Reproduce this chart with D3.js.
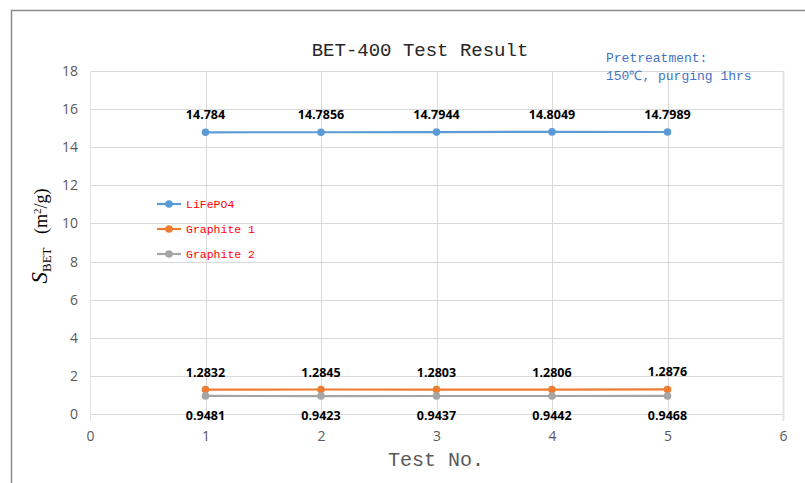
<!DOCTYPE html>
<html><head><meta charset="utf-8">
<script src="https://cdn.jsdelivr.net/npm/d3@7"></script>
<style>body{margin:0;background:#fff;}svg{display:block;}</style>
</head><body><svg id="c" width="805" height="483"></svg>
<script>
const tests = [1, 2, 3, 4, 5];
const lifepo4 = [14.784, 14.7856, 14.7944, 14.8049, 14.7989];
const graphite1 = [1.2832, 1.2845, 1.2803, 1.2806, 1.2876];
const graphite2 = [0.9481, 0.9423, 0.9437, 0.9442, 0.9468];
const seriesNames = ["LiFePO4", "Graphite 1", "Graphite 2"];
const labelsText = {
  "LiFePO4": ["14.784", "14.7856", "14.7944", "14.8049", "14.7989"],
  "Graphite 1": ["1.2832", "1.2845", "1.2803", "1.2806", "1.2876"],
  "Graphite 2": ["0.9481", "0.9423", "0.9437", "0.9442", "0.9468"]
};
const xTicks = [0, 1, 2, 3, 4, 5, 6];
const yTicks = [0, 2, 4, 6, 8, 10, 12, 14, 16, 18];

const svg = d3.select("#c");
const W = 805, H = 483;
const m = {l: 90, r: 22, t: 71, b: 69};
const x = d3.scaleLinear().domain([0, 6]).range([m.l, W - m.r]);
const y = d3.scaleLinear().domain([0, 18]).range([H - m.b, m.t]);

// outer border (left and top only visible)
svg.append("path").attr("d", `M11.5,${H}V10.5H${W}`).attr("fill","none").attr("stroke","#8c8c8c").attr("stroke-width",1.5);

const mono = "'Liberation Mono','DejaVu Sans Mono',monospace";
const sans = "'Open Sans','Liberation Sans',sans-serif";

// gridlines
const g = svg.append("g");
g.selectAll("line.h").data(yTicks).join("line")
  .attr("x1", x(0)).attr("x2", x(6))
  .attr("y1", d => Math.round(y(d)) + 0.5).attr("y2", d => Math.round(y(d)) + 0.5)
  .attr("stroke", "#d9d9d9").attr("stroke-width", 1);
g.selectAll("line.v").data(xTicks).join("line")
  .attr("x1", d => Math.round(x(d)) + 0.5).attr("x2", d => Math.round(x(d)) + 0.5)
  .attr("y1", y(18)).attr("y2", y(0) + 7)
  .attr("stroke", d => (d === 0 || d === 6) ? "#e3e3e3" : "#d9d9d9")
  .attr("stroke-width", d => (d === 6) ? 2 : 1);

// axis tick labels
const yAxis = d3.axisLeft(y).tickValues(yTicks).tickSize(0).tickPadding(12).tickFormat(d3.format("d"));
const ya = svg.append("g").attr("transform", `translate(${x(0)},0)`).call(yAxis);
ya.select(".domain").remove();
ya.selectAll("text").attr("font-family", sans).attr("font-size", 14).attr("fill", "#595959");

const xAxis = d3.axisBottom(x).tickValues(xTicks).tickSize(0).tickPadding(17).tickFormat(d3.format("d"));
const xa = svg.append("g").attr("transform", `translate(0,${y(0)})`).call(xAxis);
xa.select(".domain").remove();
xa.selectAll("text").attr("font-family", sans).attr("font-size", 14).attr("fill", "#595959");

// series
const data = [
  {name: seriesNames[0], vals: lifepo4, color: "#5B9BD5", pos: "above"},
  {name: seriesNames[1], vals: graphite1, color: "#ED7D31", pos: "above"},
  {name: seriesNames[2], vals: graphite2, color: "#A5A5A5", pos: "below"}
];
const line = d3.line().x((d, i) => x(tests[i])).y(d => y(d));
data.forEach(s => {
  svg.append("path").datum(s.vals).attr("d", line)
    .attr("fill", "none").attr("stroke", s.color).attr("stroke-width", 2.2);
  svg.selectAll(null).data(s.vals).join("circle")
    .attr("cx", (d, i) => x(tests[i])).attr("cy", d => y(d)).attr("r", 3.8)
    .attr("fill", s.color);
  svg.selectAll(null).data(s.vals).join("text")
    .attr("x", (d, i) => x(tests[i]))
    .attr("y", d => s.pos === "above" ? y(d) - 13 : y(d) + 24)
    .attr("text-anchor", "middle")
    .attr("font-family", sans).attr("font-weight", "bold").attr("font-size", 12.5)
    .attr("fill", "#000")
    .text((d, i) => labelsText[s.name][i]);
});

// legend
const lg = svg.append("g");
data.forEach((s, i) => {
  const ly = 204 + i * 25;
  lg.append("line").attr("x1", 157).attr("x2", 181).attr("y1", ly).attr("y2", ly)
    .attr("stroke", s.color).attr("stroke-width", 2.2);
  lg.append("circle").attr("cx", 169).attr("cy", ly).attr("r", 3.8).attr("fill", s.color);
  lg.append("text").attr("x", 186).attr("y", ly + 4).attr("font-family", mono)
    .attr("font-size", 11.5).attr("fill", "#FF0000").text(s.name);
});

// title
svg.append("text").attr("x", 420).attr("y", 56).attr("text-anchor", "middle")
  .attr("font-family", mono).attr("font-size", 19).attr("fill", "#262626")
  .text("BET-400 Test Result");

// pretreatment note
svg.append("text").attr("x", 606).attr("y", 62).attr("font-family", mono)
  .attr("font-size", 13).attr("fill", "#4472C4").text("Pretreatment:");
svg.append("text").attr("x", 606).attr("y", 80).attr("font-family", mono)
  .attr("font-size", 13).attr("fill", "#4472C4").text("150℃, purging 1hrs");

// x axis title
svg.append("text").attr("x", 436).attr("y", 466).attr("text-anchor", "middle")
  .attr("font-family", mono).attr("font-size", 20).attr("fill", "#595959")
  .text("Test No.");

// y axis title
const yt = svg.append("text").attr("transform", "translate(47,236) rotate(-90)")
  .attr("text-anchor", "middle").attr("font-family", "'Liberation Serif','DejaVu Serif',serif")
  .attr("fill", "#000").attr("font-size", 18);
yt.append("tspan").attr("font-style", "italic").attr("font-size", 23).text("S");
yt.append("tspan").attr("font-size", 13).attr("dy", 4).text("BET");
yt.append("tspan").attr("dy", -4).text("\u00a0\u00a0\u00a0(m");
yt.append("tspan").attr("font-size", 11).attr("dy", -6).text("2");
yt.append("tspan").attr("dy", 6).text("/g)");
</script></body></html>
